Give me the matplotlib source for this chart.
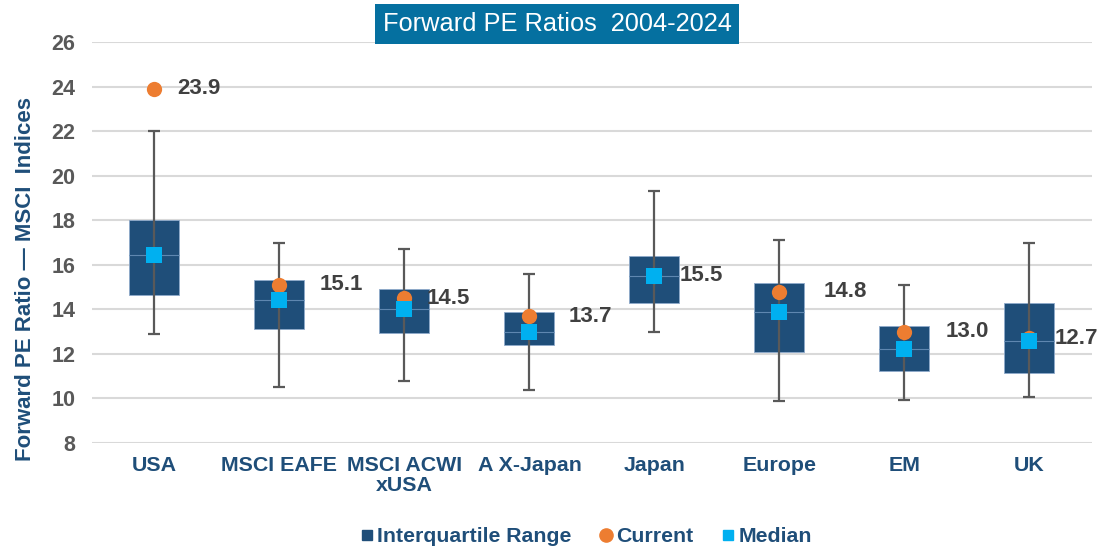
import matplotlib
matplotlib.use("Agg")
import matplotlib.pyplot as plt
from matplotlib.lines import Line2D
import numpy as np

plt.rcParams['font.family'] = ['Liberation Sans', 'DejaVu Sans']

# Values
regions = ['USA', 'MSCI EAFE', 'MSCI ACWI\nxUSA', 'A X-Japan', 'Japan', 'Europe', 'EM', 'UK']
whisker_low = [12.9, 10.5, 10.8, 10.4, 13.0, 9.9, 9.95, 10.05]
q1 = [14.65, 13.1, 12.95, 12.4, 14.3, 12.1, 11.25, 11.15]
median = [16.45, 14.4, 14.0, 13.0, 15.5, 13.9, 12.2, 12.6]
q3 = [18.0, 15.3, 14.9, 13.9, 16.4, 15.2, 13.25, 14.3]
whisker_high = [22.0, 17.0, 16.7, 15.6, 19.3, 17.1, 15.1, 17.0]
current = [23.9, 15.1, 14.5, 13.7, 15.5, 14.8, 13.0, 12.7]

navy = '#1F4E79'
orange = '#ED7D31'
cyan = '#00B0F0'
grey = '#595959'

fig = plt.figure(figsize=(11.08, 5.49), dpi=100)
ax = fig.add_axes([0.083, 0.193, 0.9025, 0.7305])

x = np.arange(len(regions))
q1a = np.array(q1)
q3a = np.array(q3)
meda = np.array(median)

# interquartile boxes
ax.bar(x, q3a - q1a, bottom=q1a, width=0.4, color=navy, edgecolor='#8FAACB',
       linewidth=0.6, zorder=2)
# thin median line across each box
ax.hlines(meda, x - 0.2, x + 0.2, color='#5F87B0', linewidth=0.8, zorder=3)

# whiskers
ax.errorbar(x, meda, yerr=[meda - np.array(whisker_low), np.array(whisker_high) - meda],
            fmt='none', ecolor=grey, elinewidth=1.6, capsize=4.5, capthick=1.6, zorder=4)

ax.plot(x, current, 'o', color=orange, markersize=11, markeredgewidth=0, zorder=5)
ax.plot(x, median, 's', color=cyan, markersize=11, markeredgewidth=0, zorder=6)

label_dx = [0.18, 0.32, 0.18, 0.31, 0.2, 0.35, 0.33, 0.2]
for i, v in enumerate(current):
    ax.text(x[i] + label_dx[i], v, f'{v:.1f}', ha='left', va='center',
            fontsize=16, fontweight='bold', color='#404040', zorder=7)

ax.set_xlim(-0.5, len(regions) - 0.5)
ax.set_ylim(8, 26)
ax.set_yticks(np.arange(8, 27, 2))
ax.set_xticks(x)
ax.set_xticklabels(regions, fontsize=15.4, fontweight='bold', color=navy,
                   linespacing=1.1)
ax.tick_params(axis='x', length=0, pad=9)
ax.tick_params(axis='y', length=0, pad=12, labelsize=15.5, labelcolor=grey)
for lab in ax.get_yticklabels():
    lab.set_fontweight('bold')
ax.grid(axis='y', color='#D9D9D9', linewidth=1.5, zorder=0)
ax.set_axisbelow(True)
for s in ax.spines.values():
    s.set_visible(False)

ax.set_ylabel('Forward PE Ratio \u2014 MSCI  Indices', fontsize=16, fontweight='bold',
              color=navy)
ax.yaxis.set_label_coords(-0.056, 0.41)

fig.text(0.5027, 1 - 24 / 549, 'Forward PE Ratios  2004-2024', ha='center', va='center',
         fontsize=18.3, color='white',
         bbox=dict(boxstyle='square,pad=0.3', facecolor='#0570A0', edgecolor='none'))

handles = [
    Line2D([], [], marker='s', linestyle='none', color=navy, markersize=7.5),
    Line2D([], [], marker='o', linestyle='none', color=orange, markersize=9.5),
    Line2D([], [], marker='s', linestyle='none', color=cyan, markersize=7.5),
]
leg = fig.legend(handles, ['Interquartile Range', 'Current', 'Median'], loc='center',
                 bbox_to_anchor=(0.529, 1 - 537 / 549), ncol=3, frameon=False,
                 handlelength=0.6, handletextpad=0.2, columnspacing=1.3,
                 prop={'size': 15.3, 'weight': 'bold'})
for t in leg.get_texts():
    t.set_color(navy)

fig.savefig('out.png', dpi=100)
